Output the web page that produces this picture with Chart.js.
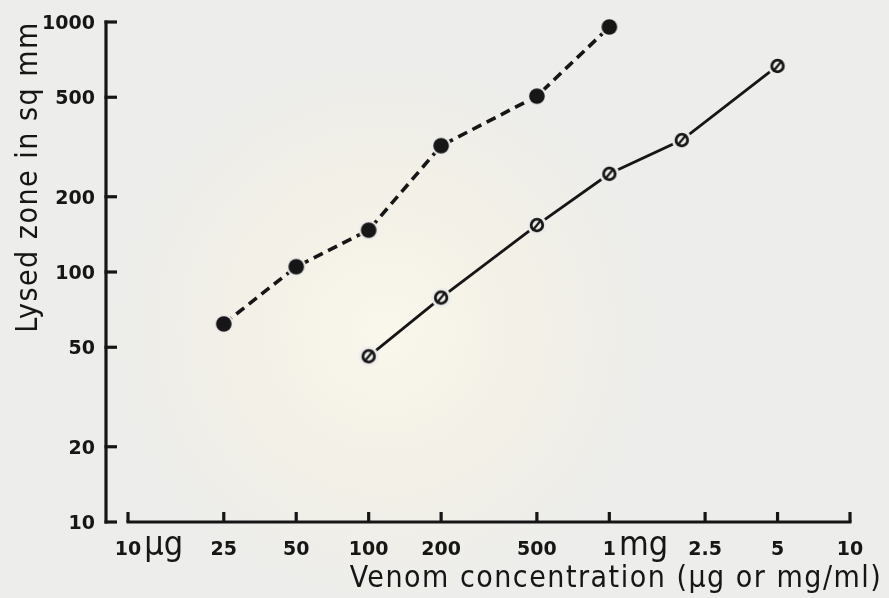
<!DOCTYPE html>
<html>
<head>
<meta charset="utf-8">
<title>Venom concentration vs lysed zone</title>
<script src="https://cdn.jsdelivr.net/npm/chart.js@4.4.1/dist/chart.umd.min.js"></script>
<style>
  html, body { margin: 0; padding: 0; background: #ededeb; }
  #chart { display: block; }
</style>
</head>
<body>
<canvas id="chart" width="889" height="598"></canvas>
<script>
// doses in µg/ml, lysed zones in sq mm
const solidDose = [25, 50, 100, 200, 500, 1000];
const solidZone = [62, 105, 147, 320, 505, 955];
const ringDose = [100, 200, 500, 1000, 2000, 5000];
const ringZone = [46, 79, 154, 247, 337, 667];

const yTicks = [10, 20, 50, 100, 200, 500, 1000];
const xTicks = [10, 25, 50, 100, 200, 500, 1000, 2500, 5000, 10000];
const xTickNums = ['10', '25', '50', '100', '200', '500', '1', '2.5', '5', '10'];
const xTickUnits = ['µg', '', '', '', '', '', 'mg', '', '', ''];

const paper = '#ededeb';
const ink = '#161616';
const numFont = 'bold 19px "DejaVu Sans", sans-serif';
const unitFont = '34px "DejaVu Sans Condensed", "DejaVu Sans", sans-serif';
const titleFont = '30px "DejaVu Sans Condensed", "DejaVu Sans", sans-serif';

// filled dot, with a paper coloured ring so the dashes stop short of it
function dotMarker() {
    const c = document.createElement('canvas');
    c.width = c.height = 24;
    const g = c.getContext('2d');
    g.fillStyle = paper;
    g.beginPath(); g.arc(12, 12, 10, 0, Math.PI * 2); g.fill();
    g.fillStyle = ink;
    g.beginPath(); g.arc(12, 12, 7.8, 0, Math.PI * 2); g.fill();
    return c;
}

// open circle with a slash through it
function ringMarker() {
    const c = document.createElement('canvas');
    c.width = c.height = 24;
    const g = c.getContext('2d');
    g.fillStyle = paper;
    g.beginPath(); g.arc(12, 12, 10, 0, Math.PI * 2); g.fill();
    g.strokeStyle = ink;
    g.lineWidth = 2.8;
    g.beginPath(); g.arc(12, 12, 5.8, 0, Math.PI * 2); g.stroke();
    g.lineWidth = 2.2;
    g.beginPath(); g.moveTo(7.5, 17.5); g.lineTo(16.5, 6.5); g.stroke();
    return c;
}

const paperAxes = {
    id: 'paperAxes',
    beforeDraw(chart) {
        const ctx = chart.ctx;
        ctx.save();
        ctx.fillStyle = paper;
        ctx.fillRect(0, 0, chart.width, chart.height);
        // pale glow in the middle of the sheet
        const glow = ctx.createRadialGradient(385, 330, 10, 385, 330, 270);
        glow.addColorStop(0, 'rgba(250,248,236,0.95)');
        glow.addColorStop(0.6, 'rgba(247,243,226,0.45)');
        glow.addColorStop(1, 'rgba(247,243,226,0)');
        ctx.fillStyle = glow;
        ctx.fillRect(0, 0, chart.width, chart.height);
        ctx.restore();
    },
    beforeDatasetsDraw(chart) {
        const ctx = chart.ctx;
        const xs = chart.scales.x;
        const ys = chart.scales.y;
        ctx.save();
        ctx.strokeStyle = ink;
        ctx.fillStyle = ink;
        ctx.lineWidth = 3.2;

        // y axis, set off to the left of the x axis start
        const axisX = xs.left - 22;
        ctx.beginPath();
        ctx.moveTo(axisX, ys.getPixelForValue(1000) - 1.5);
        ctx.lineTo(axisX, ys.getPixelForValue(10) + 1.5);
        ctx.stroke();
        ctx.font = numFont;
        ctx.textAlign = 'right';
        ctx.textBaseline = 'middle';
        yTicks.forEach(v => {
            const y = ys.getPixelForValue(v);
            ctx.beginPath();
            ctx.moveTo(axisX - 1.5, y);
            ctx.lineTo(axisX + 11, y);
            ctx.stroke();
            ctx.fillText(String(v), axisX - 11, y + 2);
        });

        // x axis
        const axisY = ys.bottom;
        ctx.beginPath();
        ctx.moveTo(xs.getPixelForValue(10) - 1.5, axisY);
        ctx.lineTo(xs.getPixelForValue(10000) + 1.5, axisY);
        ctx.stroke();
        ctx.textBaseline = 'alphabetic';
        xTicks.forEach((v, i) => {
            const x = xs.getPixelForValue(v);
            ctx.beginPath();
            ctx.moveTo(x, axisY);
            ctx.lineTo(x, axisY - 10);
            ctx.stroke();
            ctx.font = numFont;
            ctx.textAlign = 'center';
            ctx.fillText(xTickNums[i], x, axisY + 33);
            if (xTickUnits[i]) {
                const w = ctx.measureText(xTickNums[i]).width;
                ctx.font = unitFont;
                ctx.textAlign = 'left';
                ctx.fillText(xTickUnits[i], x + w / 2 + 3, axisY + 33);
            }
        });

        // axis titles
        ctx.font = titleFont;
        ctx.letterSpacing = '1.5px';
        ctx.textAlign = 'center';
        ctx.fillText('Venom concentration (µg or mg/ml)', 616, 587);
        ctx.translate(37, 177);
        ctx.rotate(-Math.PI / 2);
        ctx.fillText('Lysed zone in sq mm', 0, 0);
        ctx.restore();
    }
};

const ctx = document.getElementById('chart').getContext('2d');

const chart = new Chart(ctx, {
    type: 'line',
    data: {
        datasets: [{
            data: solidDose.map((d, i) => ({ x: d, y: solidZone[i] })),
            borderColor: ink,
            borderWidth: 3.6,
            borderDash: [10, 6],
            pointStyle: dotMarker(),
            pointRadius: 8,
            tension: 0,
            clip: false
        }, {
            data: ringDose.map((d, i) => ({ x: d, y: ringZone[i] })),
            borderColor: ink,
            borderWidth: 2.8,
            pointStyle: ringMarker(),
            pointRadius: 7,
            tension: 0,
            clip: false
        }]
    },
    options: {
        responsive: false,
        devicePixelRatio: 1,
        animation: false,
        layout: {
            padding: { left: 128, right: 39, top: 22, bottom: 76 }
        },
        plugins: {
            legend: { display: false },
            tooltip: { enabled: false }
        },
        scales: {
            x: { type: 'logarithmic', min: 10, max: 10000, display: false },
            y: { type: 'logarithmic', min: 10, max: 1000, display: false }
        }
    },
    plugins: [paperAxes]
});
</script>
</body>
</html>
